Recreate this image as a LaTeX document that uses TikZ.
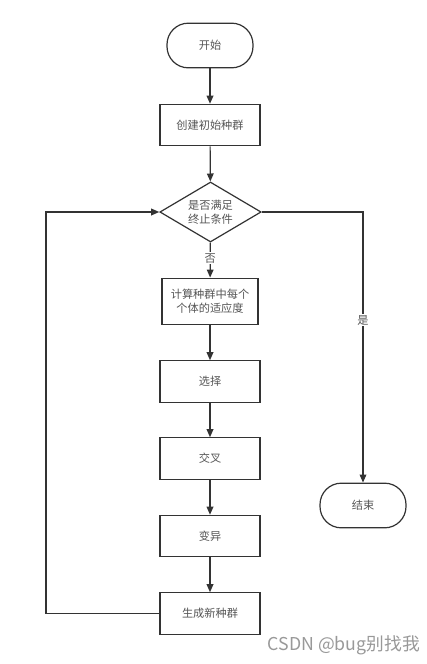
\documentclass[tikz,border=0pt]{standalone}
\usepackage{fontspec}
\setmainfont{Noto Sans CJK SC}
\usetikzlibrary{shapes.geometric,arrows.meta}
\definecolor{linec}{HTML}{333333}
\definecolor{textc}{HTML}{555555}
\tikzset{
  every node/.style={font=\fontsize{8.4pt}{10.2pt}\selectfont, text=textc},
  procbox/.style={draw=linec, line width=0.9pt, rectangle, minimum width=75pt, minimum height=31pt, inner sep=1pt, align=center},
  termbox/.style={draw=linec, line width=0.9pt, rectangle, rounded corners=16pt, minimum width=64.5pt, minimum height=33.5pt},
  decbox/.style={draw=linec, line width=0.9pt, diamond, aspect=1.68, minimum width=76pt, minimum height=45pt, inner sep=0pt, align=center},
  flow/.style={draw=linec, line width=0.9pt, -{Triangle[length=6pt,width=5pt]}},
  lbl/.style={fill=white, inner sep=1pt}
}
\begin{document}
\begin{tikzpicture}[x=0.75pt,y=-0.75pt]
\fill[white] (0,0) rectangle (426,664);
\useasboundingbox (0,0) rectangle (426,664);
\node[termbox] (start) at (210,45.5) {开始};
\node[procbox] (init) at (210,125) {创建初始种群};
\node[decbox] (cond) at (210.5,212) {是否满足\\终止条件};
\node[procbox, minimum width=72pt, minimum height=35pt, text width=70pt] (fit) at (210,301.5) {计算种群中每个\\个体的适应度};
\node[procbox] (sel) at (210,381.5) {选择};
\node[procbox] (cross) at (210,458.5) {交叉};
\node[procbox] (mut) at (210,536) {变异};
\node[procbox] (newp) at (210,613.5) {生成新种群};
\node[termbox] (end) at (363,505.5) {结束};
\coordinate (cr) at (363,212);
\coordinate (bl) at (46,613.5);
\coordinate (tl) at (46,212);
\draw[flow] (start) -- (init);
\draw[flow] (init) -- (cond);
\draw[flow] (cond) -- node[lbl, pos=0.45] {否} (fit);
\draw[flow] (fit) -- (sel);
\draw[flow] (sel) -- (cross);
\draw[flow] (cross) -- (mut);
\draw[flow] (mut) -- (newp);
\draw[flow] (cond.east) -- (cr) -- node[lbl, pos=0.4] {是} (end);
\draw[flow] (newp.west) -- (bl) -- (tl) -- (cond.west);
\node[font=\fontsize{13.3pt}{15pt}\selectfont, text=gray!80, anchor=east, inner sep=0pt] (wm) at (420,645) {CSDN @bug别找我};
\end{tikzpicture}
\end{document}
